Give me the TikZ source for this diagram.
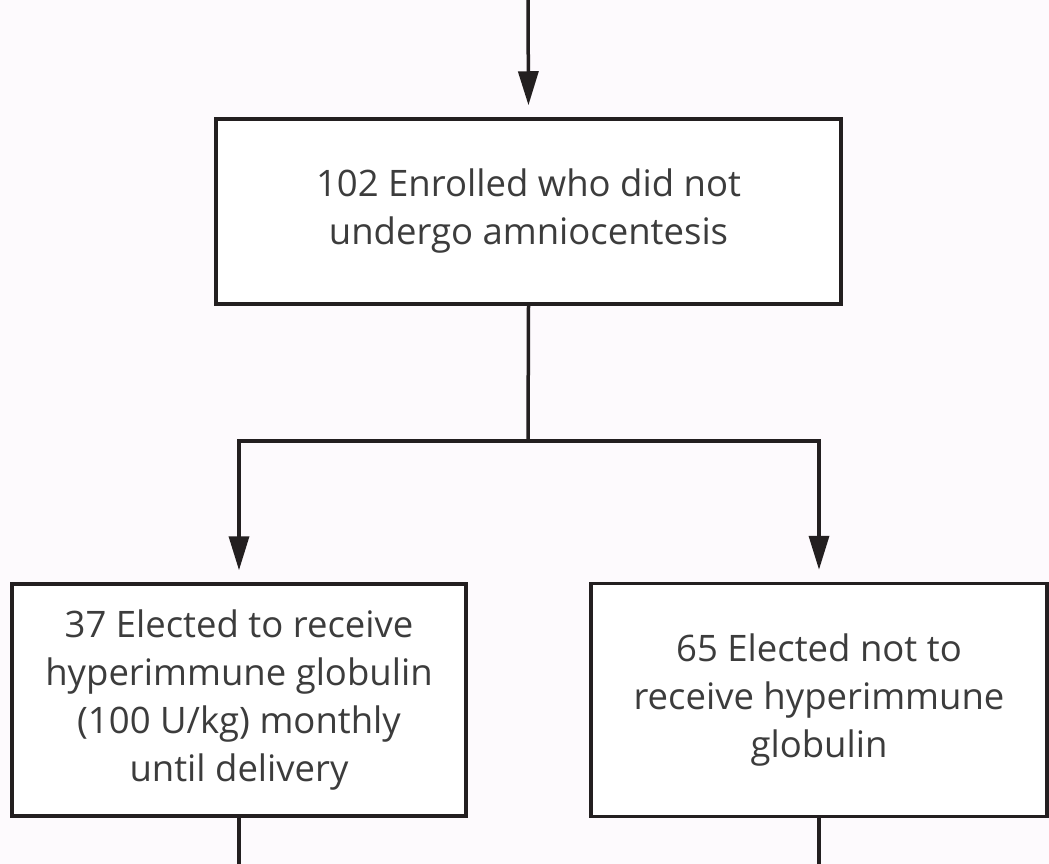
\documentclass[tikz,border=0pt]{standalone}
\usepackage{fontspec}
\setmainfont{Open Sans}
\usetikzlibrary{arrows.meta}
\definecolor{bg}{RGB}{253,250,253}
\definecolor{linec}{RGB}{35,31,32}
\definecolor{txtc}{RGB}{60,60,60}
\tikzset{
  box/.style={draw=linec, line width=3.5pt, fill=white, align=center, inner sep=0pt,
    text=txtc, font=\fontsize{36.5}{48}\selectfont},
  conn/.style={draw=linec, line width=3.5pt},
  arr/.style={conn, -{Triangle[length=34pt,width=20pt]}, shorten >=12pt}
}
\begin{document}
\begin{tikzpicture}[x=1pt,y=-1pt]
\fill[bg] (0,0) rectangle (1049,864);
\useasboundingbox (0,0) rectangle (1049,864);
\node[box, minimum width=625pt, minimum height=185pt] (enr) at (528.5,211.5)
  {102 Enrolled who did not\\undergo amniocentesis};
\node[box, minimum width=454pt, minimum height=232pt] (left) at (239,700)
  {37 Elected to receive\\hyperimmune globulin\\(100 U/kg) monthly\\until delivery};
\node[box, minimum width=456pt, minimum height=233pt] (right) at (819,700)
  {65 Elected not to\\receive hyperimmune\\globulin};
\coordinate (top) at (528,-5);
\coordinate (split) at (528,441);
\coordinate (lend) at (239,870);
\coordinate (rend) at (819,870);
\draw[arr] (top) -- (enr.north);
\draw[conn] (enr.south) -- (split);
\draw[arr] (split) -| (left.north);
\draw[arr] (split) -| (right.north);
\draw[conn] (left.south) -- (lend);
\draw[conn] (right.south) -- (rend);
\end{tikzpicture}
\end{document}
